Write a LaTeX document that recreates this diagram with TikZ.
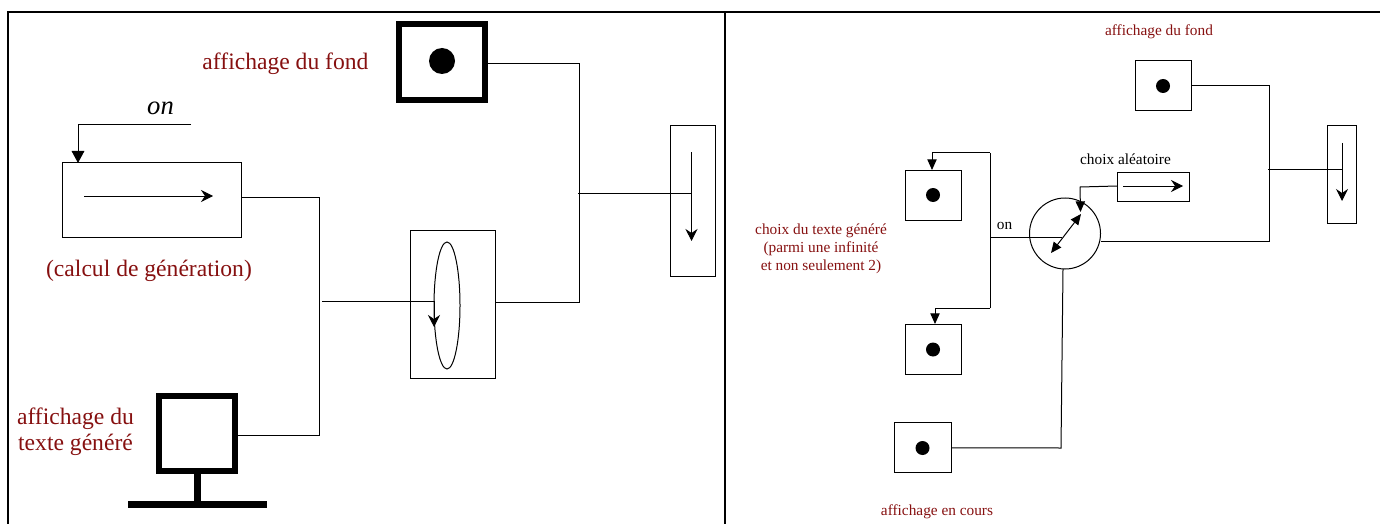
\documentclass[tikz,border=0pt]{standalone}
\usepackage{fontspec}
\setmainfont{Liberation Serif}
\usepackage{xcolor}
\usetikzlibrary{shapes.geometric,positioning,calc,arrows.meta}
\definecolor{labelred}{HTML}{861010}

\begin{document}
\begin{tikzpicture}[
    x=0.75pt, y=-0.75pt,
    box/.style={rectangle, draw, line width=0.75pt, inner sep=0pt, outer sep=0pt},
    screen/.style={rectangle, draw, line width=4.5pt, inner sep=0pt, outer sep=0pt},
    dot/.style={circle, fill=black, inner sep=0pt, outer sep=0pt},
    biglabel/.style={text=labelred, font=\fontsize{17.7}{19.5}\selectfont, align=center},
    smalllabel/.style={text=labelred, font=\fontsize{11.5}{13.5}\selectfont, align=center},
    wire/.style={line width=0.75pt},
    openarrow/.style={-{Stealth[length=9pt,width=9pt,inset=3pt]}, line width=0.75pt},
    fullarrow/.style={-{Triangle[length=9pt,width=9.5pt]}, line width=0.75pt},
    smallarrow/.style={-{Triangle[length=8pt,width=7pt]}, line width=0.75pt}
]
    \useasboundingbox (0,0) rectangle (1380,524);

    % frame
    \coordinate (frameA) at (8,524);
    \coordinate (frameB) at (8,12);
    \coordinate (frameC) at (1380,12);
    \coordinate (frameD) at (724.5,12);
    \coordinate (frameE) at (724.5,524);
    \draw[line width=1.5pt] (frameA) -- (frameB) -- (frameC);
    \draw[line width=1.5pt] (frameD) -- (frameE);

    % left part
    \node[screen, minimum width=64.5pt, minimum height=57pt] (fondA) at (442,62) {};
    \node[dot, minimum size=19.5pt] (dotA) at (442,61) {};
    \node[biglabel] (labelfondA) at (285.5,63.5) {affichage du fond};
    \node[box, minimum width=134.25pt, minimum height=55.5pt] (calcul) at (151.5,200) {};
    \node[biglabel] (labelcalcul) at (149,271) {(calcul de génération)};
    \node[font=\fontsize{20}{24}\selectfont\itshape] (onA) at (160.5,108) {on};
    \node[box, minimum width=63.75pt, minimum height=111pt] (melange) at (452.5,304) {};
    \node[draw, ellipse, line width=0.75pt, minimum width=19.5pt, minimum height=95.25pt, inner sep=0pt, outer sep=0pt] (boucle) at (447,305.5) {};
    \node[box, minimum width=33.75pt, minimum height=112.5pt] (sortieA) at (692.5,201) {};
    \node[screen, minimum width=57pt, minimum height=56.25pt] (texte) at (197,433.5) {};
    \node[biglabel] (labeltexte) at (75.5,432) {affichage du\\texte généré};

    \coordinate (onstart) at (191,125);
    \coordinate (onbend) at (78,125);
    \coordinate (calculin) at (78,163);
    \coordinate (calculA) at (84,196);
    \coordinate (calculB) at (213,196);
    \coordinate (wireA) at (319,197);
    \coordinate (wireB) at (319,435);
    \coordinate (wireC) at (322,301);
    \coordinate (bouclein) at (434,301);
    \coordinate (boucleout) at (434,327);
    \coordinate (wireD) at (579,64);
    \coordinate (wireE) at (579,302);
    \coordinate (wireF) at (578,193);
    \coordinate (sortieB) at (691.5,193);
    \coordinate (sortieH) at (691.5,152.5);
    \coordinate (sortieC) at (691.5,241);
    \coordinate (pied) at (197,501);
    \coordinate (baseA) at (128,504.5);
    \coordinate (baseB) at (267,504.5);

    \draw[fullarrow] (onstart) -- (onbend) -- (calculin);
    \draw[openarrow] (calculA) -- (calculB);
    \draw[wire] (calcul.east |- wireA) -- (wireA) -- (wireB) -- (texte.east |- wireB);
    \draw[wire] (wireC) -- (bouclein);
    \draw[openarrow] (bouclein) -- (boucleout);
    \draw[wire] (fondA.east |- wireD) -- (wireD) -- (wireE) -- (melange.east |- wireE);
    \draw[wire] (wireF) -- (sortieB);
    \draw[openarrow] (sortieH) -- (sortieC);
    \draw[line width=5.25pt] (texte.south) -- (pied);
    \draw[line width=5.25pt] (baseA) -- (baseB);

    % right part
    \node[smalllabel] (labelfondB) at (1159,31.5) {affichage du fond};
    \node[box, minimum width=42pt, minimum height=37.5pt] (fondB) at (1163,86) {};
    \node[dot, minimum size=10.5pt] (dotB) at (1163,86) {};
    \node[box, minimum width=21.75pt, minimum height=73.5pt] (sortieD) at (1342.2,174.2) {};
    \node[box, minimum width=42pt, minimum height=37.5pt] (texteA) at (933,195) {};
    \node[dot, minimum size=10.5pt] (dotC) at (933,195) {};
    \node[box, minimum width=42pt, minimum height=37.5pt] (texteB) at (933,349) {};
    \node[dot, minimum size=10.5pt] (dotD) at (933,349.5) {};
    \node[box, minimum width=42.5pt, minimum height=37.25pt] (encours) at (922.7,447.8) {};
    \node[dot, minimum size=10.5pt] (dotE) at (922.5,448) {};
    \node[smalllabel] (labeltexteB) at (821,248.5) {choix du texte généré\\(parmi une infinité\\et non seulement 2)};
    \node[smalllabel] (labelencours) at (937,511.5) {affichage en cours};
    \node[font=\fontsize{11.5}{13.5}\selectfont] (labelchoix) at (1125.5,159.5) {choix aléatoire};
    \node[font=\fontsize{11.5}{13.5}\selectfont] (onB) at (1004.5,225.5) {on};
    \node[circle, draw, line width=0.75pt, minimum size=53.25pt, inner sep=0pt, outer sep=0pt] (selecteur) at (1065,233.5) {};
    \node[box, minimum width=54pt, minimum height=21.75pt] (alea) at (1153,186.5) {};

    \coordinate (wireG) at (1269,86);
    \coordinate (wireH) at (1269,241);
    \coordinate (wireI) at (1268,169.5);
    \coordinate (sortieE) at (1342,169.5);
    \coordinate (sortieF) at (1342,143);
    \coordinate (sortieG) at (1342,201);
    \coordinate (aleaA) at (1123,186);
    \coordinate (aleaB) at (1183,186);
    \coordinate (wireJ) at (1080,187);
    \coordinate (wireK) at (1080.5,212);
    \coordinate (fleche) at (1081,214);
    \coordinate (flecheB) at (1051,253);
    \coordinate (wireL) at (990,237);
    \coordinate (wireM) at (1062,237);
    \coordinate (wireN) at (990,153);
    \coordinate (wireO) at (932,153);
    \coordinate (wireP) at (990,308);
    \coordinate (wireQ) at (935,308);
    \coordinate (wireR) at (1061,448);
    \coordinate (wireS) at (1063,269);

    \draw[wire] (fondB.east) -- (wireG) -- (wireH) -- (selecteur.east |- wireH);
    \draw[wire] (wireI) -- (sortieE);
    \draw[openarrow] (sortieF) -- (sortieG);
    \draw[openarrow] (aleaA) -- (aleaB);
    \draw[smallarrow] (alea.west |- aleaA) -- (wireJ) -- (wireK);
    \draw[{Triangle[length=8pt,width=7pt]}-{Triangle[length=8pt,width=7pt]}, line width=0.75pt] (flecheB) -- (fleche);
    \draw[wire] (wireL) -- (wireM);
    \draw[wire] (wireP) -- (wireN);
    \draw[smallarrow] (wireN) -- (wireO) -- (wireO |- texteA.north);
    \draw[smallarrow] (wireP) -- (wireQ) -- (wireQ |- texteB.north);
    \draw[wire] (encours.east) -- (wireR) -- (wireS);
\end{tikzpicture}
\end{document}
